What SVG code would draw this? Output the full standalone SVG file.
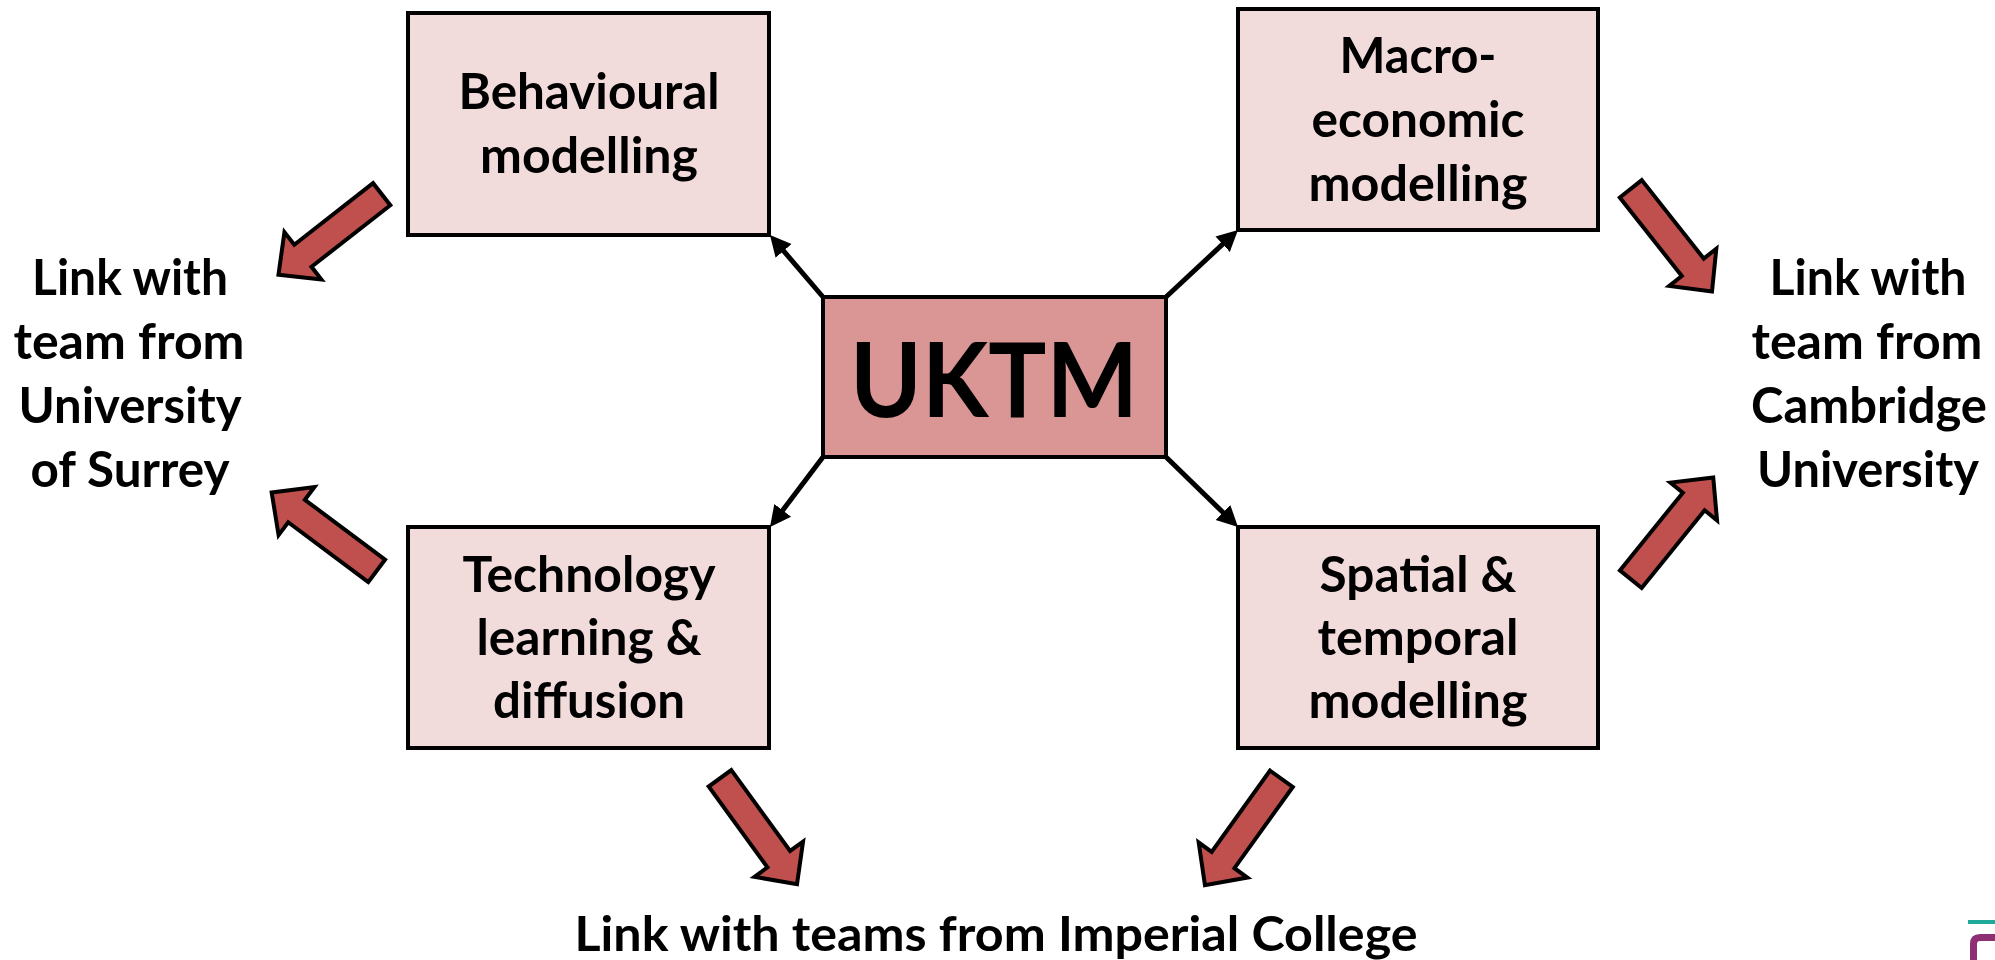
<svg xmlns="http://www.w3.org/2000/svg" width="1995" height="960" viewBox="0 0 1995 960">
<style>
  .box { fill: #F2DCDB; stroke: #000; stroke-width: 4; }
  .core { fill: #D99694; stroke: #000; stroke-width: 4; }
  .t { font-family: Lato, "Liberation Sans", sans-serif; font-weight: bold; font-size: 50px; fill: #000; text-anchor: middle; }
  .big { font-size: 103px; }
  .btm { font-size: 48px; }
  .conn { stroke: #000; stroke-width: 5; fill: none; marker-end: url(#ah); }
  .blk { fill: #C0504D; stroke: #000; stroke-width: 4; }
</style>
<defs>
  <marker id="ah" markerUnits="userSpaceOnUse" markerWidth="24" markerHeight="24" viewBox="0 -12 24 24" refX="2" refY="0" orient="auto">
    <path d="M0,-10.5 L21,0 L0,10.5 z" fill="#000"/>
  </marker>
  <path id="blkarrow" d="M0,-14 H100 V-30 L131,0 L100,30 V14 H0 Z"/>
</defs>
<rect width="1995" height="960" fill="#fff"/>

<g id="node-behavioural">
  <rect class="box" x="408" y="13" width="361" height="222"/>
  <text class="t" x="589" y="109" textLength="261" lengthAdjust="spacingAndGlyphs">Behavioural</text>
  <text class="t" x="589" y="173" textLength="218" lengthAdjust="spacingAndGlyphs">modelling</text>
</g>
<g id="node-macro">
  <rect class="box" x="1238" y="9" width="360" height="221"/>
  <text class="t" x="1418" y="73" textLength="157" lengthAdjust="spacingAndGlyphs">Macro-</text>
  <text class="t" x="1418" y="137" textLength="213" lengthAdjust="spacingAndGlyphs">economic</text>
  <text class="t" x="1418" y="201" textLength="219" lengthAdjust="spacingAndGlyphs">modelling</text>
</g>
<g id="node-uktm">
  <rect class="core" x="823" y="297" width="343" height="160"/>
  <text class="t big" x="994" y="417" textLength="288" lengthAdjust="spacingAndGlyphs">UKTM</text>
</g>
<g id="node-technology">
  <rect class="box" x="408" y="527" width="361" height="221"/>
  <text class="t" x="589" y="592" textLength="253" lengthAdjust="spacingAndGlyphs">Technology</text>
  <text class="t" x="589" y="655" textLength="225" lengthAdjust="spacingAndGlyphs">learning &amp;</text>
  <text class="t" x="589" y="718" textLength="192" lengthAdjust="spacingAndGlyphs">diffusion</text>
</g>
<g id="node-spatial">
  <rect class="box" x="1238" y="527" width="360" height="221"/>
  <text class="t" x="1418" y="592" textLength="197" lengthAdjust="spacingAndGlyphs">Spatial &amp;</text>
  <text class="t" x="1418" y="655" textLength="201" lengthAdjust="spacingAndGlyphs">temporal</text>
  <text class="t" x="1418" y="718" textLength="219" lengthAdjust="spacingAndGlyphs">modelling</text>
</g>
<g id="node-surrey">
  <text class="t" x="130" y="295" textLength="196" lengthAdjust="spacingAndGlyphs">Link with</text>
  <text class="t" x="129" y="359" textLength="231" lengthAdjust="spacingAndGlyphs">team from</text>
  <text class="t" x="130" y="423" textLength="223" lengthAdjust="spacingAndGlyphs">University</text>
  <text class="t" x="130" y="487" textLength="199" lengthAdjust="spacingAndGlyphs">of Surrey</text>
</g>
<g id="node-cambridge">
  <text class="t" x="1868" y="295" textLength="197" lengthAdjust="spacingAndGlyphs">Link with</text>
  <text class="t" x="1867" y="359" textLength="231" lengthAdjust="spacingAndGlyphs">team from</text>
  <text class="t" x="1869" y="423" textLength="236" lengthAdjust="spacingAndGlyphs">Cambridge</text>
  <text class="t" x="1868" y="487" textLength="222" lengthAdjust="spacingAndGlyphs">University</text>
</g>
<g id="node-imperial">
  <text class="t btm" x="996" y="951" textLength="843" lengthAdjust="spacingAndGlyphs">Link with teams from Imperial College</text>
</g>

<g id="connectors">
  <line class="conn" x1="823" y1="297" x2="782.3" y2="249.4"/>
  <line class="conn" x1="1166" y1="297" x2="1224.1" y2="242.9"/>
  <line class="conn" x1="823" y1="457" x2="781.5" y2="511.9"/>
  <line class="conn" x1="1166" y1="457" x2="1224.4" y2="513.8"/>
  <use href="#blkarrow" class="blk" transform="translate(381.7,194.2) rotate(142)"/>
  <use href="#blkarrow" class="blk" transform="translate(376.7,570.8) rotate(-143.3)"/>
  <use href="#blkarrow" class="blk" transform="translate(1630.8,188.8) rotate(51.7)"/>
  <use href="#blkarrow" class="blk" transform="translate(1630.8,579.2) rotate(-51)"/>
  <use href="#blkarrow" class="blk" transform="translate(720,778.3) rotate(54)"/>
  <use href="#blkarrow" class="blk" transform="translate(1281.4,778.8) rotate(125.7)"/>
</g>

<g id="logo">
  <line x1="1968" y1="922" x2="1995" y2="922" stroke="#1FA99B" stroke-width="4"/>
  <path d="M1973.5,960 V944 Q1973.5,937.5 1980,937.5 H1995" fill="none" stroke="#8E2F73" stroke-width="7"/>
</g>
</svg>
